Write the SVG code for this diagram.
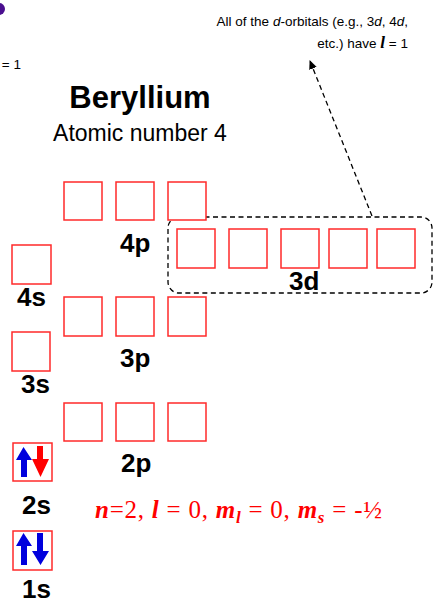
<svg xmlns="http://www.w3.org/2000/svg" width="437" height="603" viewBox="0 0 437 603">
<style>
.box{fill:#fff;stroke:#ff2a2a;stroke-width:1.5}
.lbl{font-family:"Liberation Sans",Arial,sans-serif;font-weight:bold;font-size:26px;fill:#000}
.note{font-family:"Liberation Sans",Arial,sans-serif;font-size:13.5px;fill:#000}
.tb{font-family:"Liberation Serif","Times New Roman",serif;font-weight:bold;font-style:italic}
.qn{font-family:"Liberation Serif","Times New Roman",serif;font-size:25px;fill:#ff0000}
.dash{fill:none;stroke:#000;stroke-width:1.3;stroke-dasharray:5,3.5}
</style>
<defs>
<marker id="ah" markerWidth="10" markerHeight="10" refX="8" refY="5" orient="auto" markerUnits="userSpaceOnUse">
<path d="M0,1 L9,5 L0,9 z" fill="#000"/>
</marker>
</defs>
<rect width="437" height="603" fill="#fff"/>
<circle cx="-1" cy="9" r="6" fill="#4a0f8f"/>
<text class="note" x="21" y="69" text-anchor="end">= 1</text>
<g id="note">
<text class="note" x="408" y="26" text-anchor="end">All of the <tspan font-style="italic">d</tspan>-orbitals (e.g., 3<tspan font-style="italic">d</tspan>, 4<tspan font-style="italic">d</tspan>,</text>
<text class="note" x="408" y="48" text-anchor="end">etc.) have <tspan class="tb" font-size="17">l</tspan> = 1</text>
</g>
<g id="title">
<text x="140" y="108" text-anchor="middle" font-family="Liberation Sans,Arial,sans-serif" font-weight="bold" font-size="31">Beryllium</text>
<text x="140" y="141" text-anchor="middle" font-family="Liberation Sans,Arial,sans-serif" font-size="23">Atomic number 4</text>
</g>
<g id="connectors">
<rect class="dash" x="168" y="217" width="264" height="76" rx="11"/>
<line class="dash" x1="372" y1="216" x2="310" y2="61" marker-end="url(#ah)"/>
</g>
<g id="orb-4p">
<rect class="box" x="64" y="182" width="38" height="38"/>
<rect class="box" x="116" y="182" width="38" height="38"/>
<rect class="box" x="168" y="182" width="38" height="38"/>
<text class="lbl" x="120" y="252">4p</text>
</g>
<g id="orb-3d">
<rect class="box" x="177" y="229" width="38" height="39"/>
<rect class="box" x="229" y="229" width="38" height="39"/>
<rect class="box" x="281" y="229" width="38" height="39"/>
<rect class="box" x="329" y="229" width="38" height="39"/>
<rect class="box" x="377" y="229" width="38" height="39"/>
<text class="lbl" x="289" y="290">3d</text>
</g>
<g id="orb-4s">
<rect class="box" x="12" y="245" width="39" height="39"/>
<text class="lbl" x="17" y="306">4s</text>
</g>
<g id="orb-3p">
<rect class="box" x="64" y="297" width="38" height="39"/>
<rect class="box" x="116" y="297" width="38" height="39"/>
<rect class="box" x="168" y="297" width="38" height="39"/>
<text class="lbl" x="120" y="367">3p</text>
</g>
<g id="orb-3s">
<rect class="box" x="12" y="332" width="38" height="39"/>
<text class="lbl" x="21" y="393">3s</text>
</g>
<g id="orb-2p">
<rect class="box" x="64" y="403" width="38" height="38"/>
<rect class="box" x="116" y="403" width="38" height="38"/>
<rect class="box" x="168" y="403" width="38" height="38"/>
<text class="lbl" x="121" y="472">2p</text>
</g>
<g id="orb-2s">
<rect class="box" x="13" y="443" width="39" height="38"/>
<polygon points="23.5,447 32,460 27,460 27,477 21,477 21,460 16,460" fill="#0000dd"/>
<polygon points="37,446 43,446 43,459 49,459 40.5,477 32,459 37,459" fill="#ff0000"/>
<text class="lbl" x="22" y="514">2s</text>
</g>
<g id="orb-1s">
<rect class="box" x="13" y="531" width="39" height="39"/>
<polygon points="23.5,533 32,546 27,546 27,565 21,565 21,546 16,546" fill="#0000dd"/>
<polygon points="37,533 43,533 43,551 49,551 40.5,565 32,551 37,551" fill="#0000dd"/>
<text class="lbl" x="22" y="598" font-size="25">1s</text>
</g>
<g id="quantum">
<text class="qn" x="95" y="518" textLength="287" lengthAdjust="spacing"><tspan class="tb">n</tspan>=2, <tspan class="tb">l</tspan> = 0, <tspan class="tb">m</tspan><tspan class="tb" font-size="17" dy="5">l</tspan><tspan dy="-5"> = 0, </tspan><tspan class="tb">m</tspan><tspan class="tb" font-size="17" dy="5">s</tspan><tspan dy="-5"> = -½</tspan></text>
</g>
</svg>
